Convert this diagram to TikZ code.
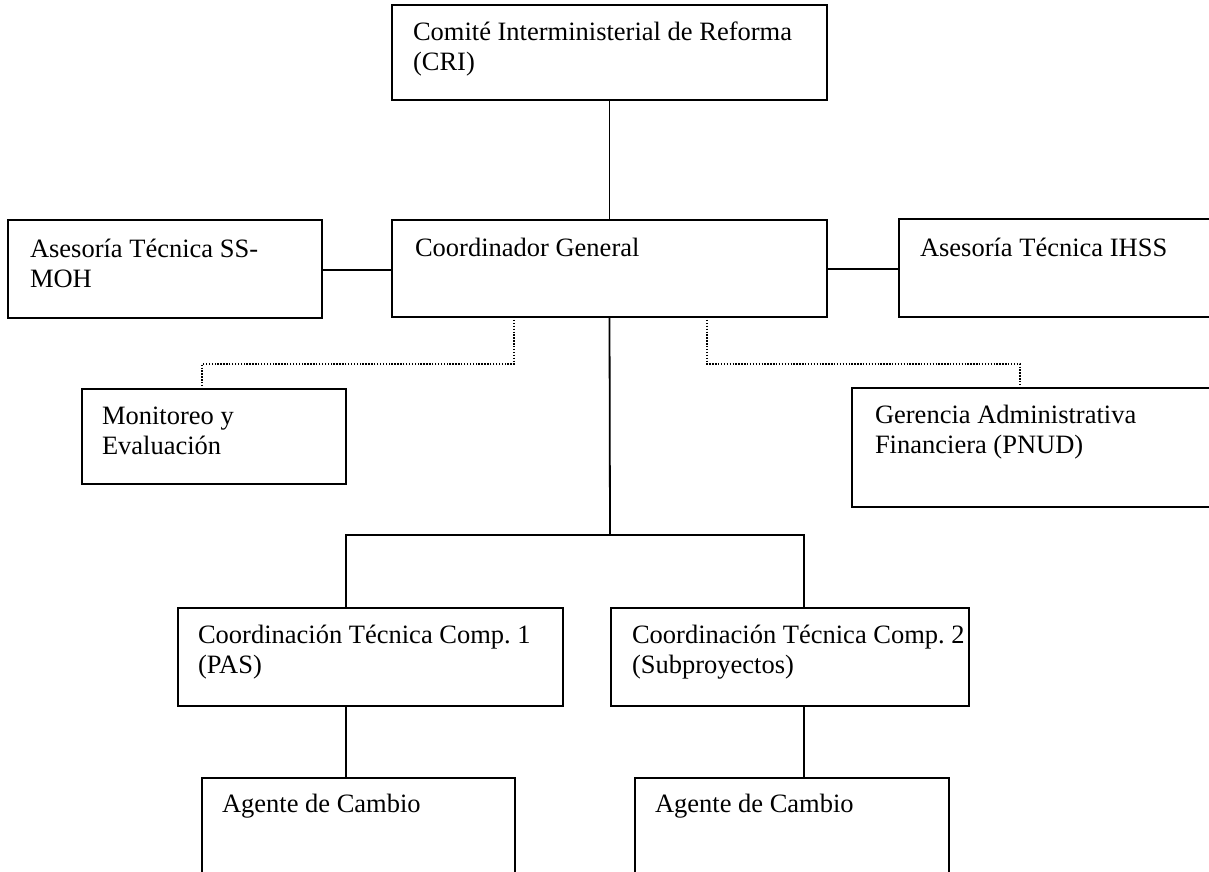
\documentclass[tikz,border=0pt]{standalone}
\usepackage{fontspec}
\setmainfont{Liberation Serif}
\frenchspacing
\newcommand{\orgfont}{\fontsize{26.5pt}{30pt}\selectfont}
\newcommand{\lines}[1]{\parbox[t]{14cm}{\raggedright\frenchspacing #1}}
\begin{document}
\begin{tikzpicture}[x=1pt,y=-1pt,
  box/.style={draw=black, line width=2pt, rectangle, inner sep=0, outer sep=0, anchor=north west},
  txt/.style={anchor=base west, inner sep=0, outer sep=0, font=\orgfont},
  link/.style={draw=black, line width=1.8pt},
  dotlink/.style={draw=black, line width=1.5pt, dash pattern=on 1.4pt off 1.5pt}]
\useasboundingbox (0,0) rectangle (1209,871);
% boxes
\node[box, minimum width=435, minimum height=95] (cri) at (392,5) {};
\node[box, minimum width=435, minimum height=97] (coord) at (392,220) {};
\node[box, minimum width=314, minimum height=98] (ssmoh) at (8,220) {};
\node[box, minimum width=320, minimum height=98] (ihss) at (899,219) {};
\node[box, minimum width=264, minimum height=95] (mon) at (82,389) {};
\node[box, minimum width=365, minimum height=119] (ger) at (852,388) {};
\node[box, minimum width=385, minimum height=98] (comp1) at (178,608) {};
\node[box, minimum width=358, minimum height=98] (comp2) at (611,608) {};
\node[box, minimum width=313, minimum height=110] (ag1) at (202,778) {};
\node[box, minimum width=314, minimum height=110] (ag2) at (635,778) {};
% texts
\node[txt] (cri-t) at (413,40) {\lines{Comité Interministerial de Reforma\\(CRI)}};
\node[txt] (coord-t) at (415,256) {Coordinador General};
\node[txt] (ssmoh-t) at (30,257) {\lines{Asesoría Técnica SS-\\MOH}};
\node[txt] (ihss-t) at (920,256) {Asesoría Técnica IHSS};
\node[txt] (mon-t) at (102,424) {\lines{Monitoreo y\\Evaluación}};
\node[txt] (ger-t) at (875,423) {\lines{Gerencia Administrativa\\Financiera (PNUD)}};
\node[txt] (comp1-t) at (198,643) {\lines{Coordinación Técnica Comp. 1\\(PAS)}};
\node[txt] (comp2-t) at (632,643) {\lines{Coordinación Técnica Comp. 2\\(Subproyectos)}};
\node[txt] (ag1-t) at (222,812) {Agente de Cambio};
\node[txt] (ag2-t) at (655,812) {Agente de Cambio};
% coordinates for elbows
\coordinate (bar) at (610,535);
\coordinate (barL) at (346,535);
\coordinate (barR) at (804,535);
\coordinate (dl1) at (514,317);
\coordinate (dl2) at (514,364);
\coordinate (dl3) at (202,364);
\coordinate (dr1) at (707,317);
\coordinate (dr2) at (707,364);
\coordinate (dr3) at (1020,364);
% connectors
\draw[link] (cri.south) -- (coord.north);
\draw[link] (ssmoh.east |- 0,270) -- (coord.west |- 0,270);
\draw[link] (coord.east |- 0,269) -- (ihss.west |- 0,269);
\draw[link] (coord.south) -- (bar);
\draw[link] (comp1.north -| barL) -- (barL) -- (barR) -- (comp2.north -| barR);
\draw[link] (comp1.south -| barL) -- (ag1.north -| barL);
\draw[link] (comp2.south -| barR) -- (ag2.north -| barR);
\draw[dotlink] (dl1) -- (dl2) -- (dl3) -- (mon.north -| dl3);
\draw[dotlink] (dr1) -- (dr2) -- (dr3) -- (ger.north -| dr3);
\end{tikzpicture}
\end{document}
